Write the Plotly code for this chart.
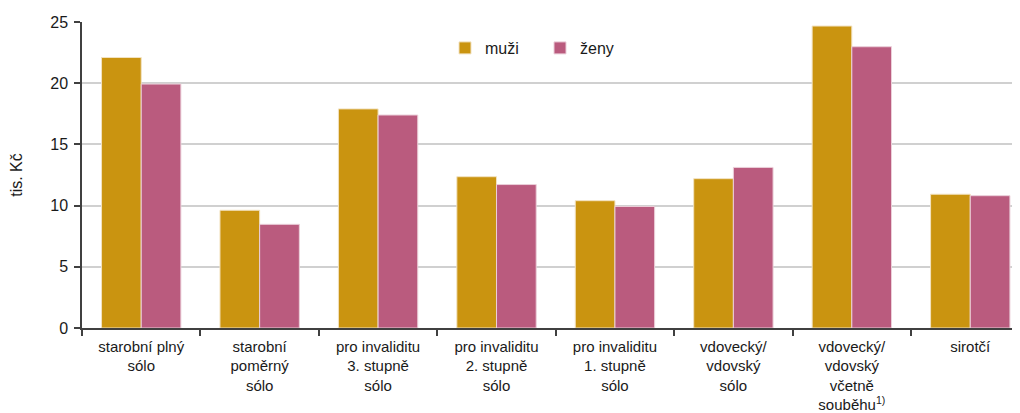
import plotly.graph_objects as go

categories = [
    "starobní plný<br>sólo",
    "starobní<br>poměrný<br>sólo",
    "pro invaliditu<br>3. stupně<br>sólo",
    "pro invaliditu<br>2. stupně<br>sólo",
    "pro invaliditu<br>1. stupně<br>sólo",
    "vdovecký/<br>vdovský<br>sólo",
    "vdovecký/<br>vdovský<br>včetně<br>souběhu<sup>1)</sup>",
    "sirotčí",
]
muzi = [22.1, 9.62, 17.9, 12.36, 10.4, 12.2, 24.67, 10.93]
zeny = [19.93, 8.47, 17.4, 11.72, 9.93, 13.12, 22.98, 10.81]

font_family = "Liberation Sans, Arial, sans-serif"

fig = go.Figure()
fig.add_trace(go.Bar(name="muži", x=categories, y=muzi,
                     marker=dict(color="#CA9410", line=dict(color="#F2E2C0", width=1))))
fig.add_trace(go.Bar(name="ženy", x=categories, y=zeny,
                     marker=dict(color="#BA5B7E", line=dict(color="#EBCFD9", width=1))))

fig.update_layout(
    width=1012, height=405,
    margin=dict(l=74, r=0, t=14, b=85),
    paper_bgcolor="white", plot_bgcolor="white",
    barmode="group", bargap=0.33, bargroupgap=0,
    font=dict(family=font_family, size=16, color="#1a1a1a"),
    showlegend=True,
    legend=dict(orientation="h", x=0.387, y=0.915, xanchor="left", yanchor="middle",
                font=dict(size=16), itemwidth=30, traceorder="normal",
                entrywidth=50, entrywidthmode="pixels",
                bgcolor="rgba(0,0,0,0)"),
)
fig.update_xaxes(
    type="category", range=[-0.5, 7.42], automargin=False,
    showline=True, linecolor="#404040", linewidth=1.5,
    ticks="outside", tickson="boundaries", ticklen=6, tickcolor="#404040", tickwidth=1.5,
    showgrid=False, tickangle=0, tickfont=dict(size=15), ticklabelstandoff=4,
)
fig.update_yaxes(
    range=[0, 25], dtick=5, automargin=False,
    showline=True, linecolor="#404040", linewidth=1.5,
    ticks="outside", ticklen=6, tickcolor="#404040", tickwidth=1.5,
    showgrid=True, gridcolor="#D0D0D0", gridwidth=1.5,
    zeroline=False, tickfont=dict(size=16), ticklabelstandoff=3,
    title=dict(text="tis. Kč", font=dict(size=16), standoff=24),
)

fig.write_html("out.html")
